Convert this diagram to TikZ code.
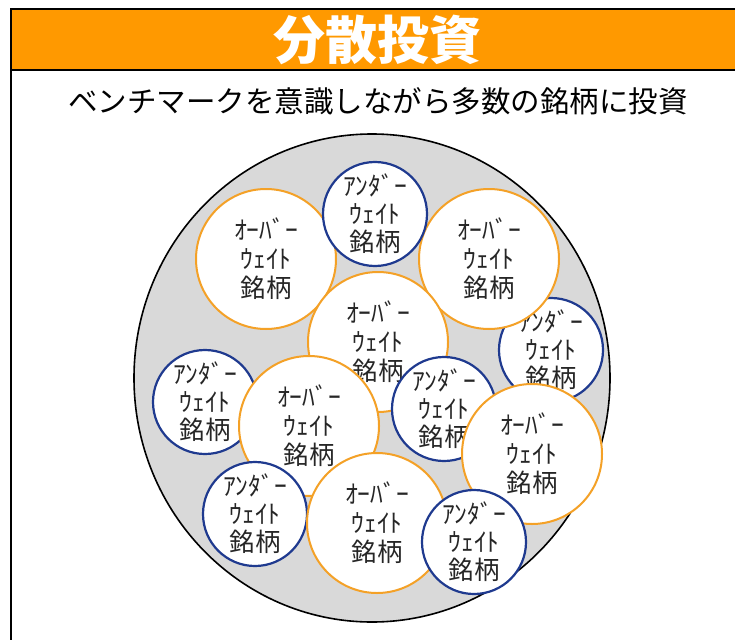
\documentclass[tikz,border=0pt]{standalone}
\usepackage{fontspec}
\newfontfamily\cjk{Noto Sans CJK JP}
\definecolor{hdr}{HTML}{FF9900}
\definecolor{ovc}{HTML}{F4A127}
\definecolor{unc}{HTML}{1F3A8F}
\definecolor{bgray}{HTML}{D9D9D9}
\definecolor{txt}{HTML}{262626}
\tikzset{
  overc/.style={circle, draw=ovc, line width=2pt, fill=white, minimum size=140pt, inner sep=0pt,
    align=center, text=txt, font=\cjk\fontsize{25.5}{29}\selectfont},
  underc/.style={circle, draw=unc, line width=2.2pt, fill=white, minimum size=104pt, inner sep=0pt,
    align=center, text=txt, font=\cjk\fontsize{25.5}{28}\selectfont},
}
\newcommand{\ovtext}{ｵｰﾊﾞｰ\\ｳｪｲﾄ\\銘柄}
\newcommand{\untext}{ｱﾝﾀﾞｰ\\ｳｪｲﾄ\\銘柄}
\begin{document}
\begin{tikzpicture}[x=1pt,y=-1pt]
\useasboundingbox (0,0) rectangle (735,639);
\fill[white] (0,0) rectangle (735,639);
% header
\fill[hdr] (11,9.5) rectangle (736,70);
\draw[line width=2pt] (736,9.5) -- (11,9.5) -- (11,640);
\draw[line width=2pt] (11,70) -- (736,70);
\node[font=\cjk\bfseries\fontsize{52}{52}\selectfont, text=white] (title) at (377.5,40) {分散投資};
\node[font=\cjk\fontsize{29.5}{30}\selectfont, text=black] (sub) at (378,101) {ベンチマークを意識しながら多数の銘柄に投資};
% big circle
\draw[fill=bgray, line width=1.6pt] (372,378) ellipse [x radius=238, y radius=244];
% small circles
\node[underc] (u5) at (551,350) {\untext};
\node[overc] (o2) at (266,259) {\ovtext};
\node[overc] (o3) at (489,259) {\ovtext};
\node[underc] (u1) at (375,214) {\untext};
\node[overc] (o4) at (378,342) {\ovtext};
\node[underc] (u6) at (205,402) {\untext};
\node[overc] (o7) at (309,426) {\ovtext};
\node[underc] (u10) at (255,514) {\untext};
\node[overc] (o11) at (377,523) {\ovtext};
\node[underc] (u8) at (444,409) {\untext};
\node[overc] (o9) at (532,454) {\ovtext};
\node[underc] (u12) at (474,542) {\untext};
\end{tikzpicture}
\end{document}
